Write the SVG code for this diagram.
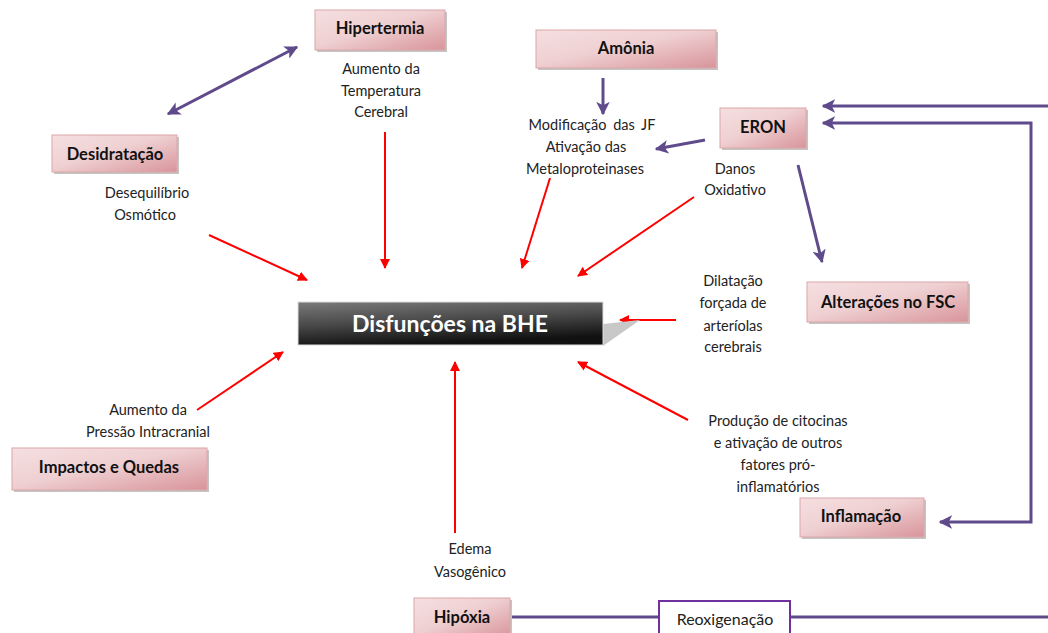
<svg xmlns="http://www.w3.org/2000/svg" width="1048" height="633" viewBox="0 0 1048 633">
<defs>
<linearGradient id="pink" x1="0" y1="0" x2="1" y2="1">
<stop offset="0" stop-color="#f5dfe0"/>
<stop offset="0.45" stop-color="#efd0d2"/>
<stop offset="1" stop-color="#d8949a"/>
</linearGradient>
<linearGradient id="dark" x1="0" y1="0" x2="0.3" y2="1">
<stop offset="0" stop-color="#7a7a7a"/>
<stop offset="0.5" stop-color="#4a4a4a"/>
<stop offset="1" stop-color="#111"/>
</linearGradient>
<marker id="ar" viewBox="0 0 10 10" refX="9" refY="5" markerWidth="5" markerHeight="5" orient="auto-start-reverse" markerUnits="strokeWidth">
<path d="M0,0 L10,5 L0,10 z" fill="#ff0000"/>
</marker>
<marker id="ap" viewBox="0 0 10 10" refX="9" refY="5" markerWidth="4.5" markerHeight="4.5" orient="auto-start-reverse" markerUnits="strokeWidth">
<path d="M0,0 L10,5 L0,10 L2.5,5 z" fill="#5f4b8b"/>
</marker>
</defs>
<style>
.box{fill:url(#pink);stroke:#dca6aa;stroke-width:1}
.sh{fill:#c4c4c4}
.bt{font-family:Lato,"Open Sans",sans-serif;font-weight:bold;font-size:16.5px;fill:#111;text-anchor:middle}
.lt{font-family:Lato,"Open Sans",sans-serif;font-size:14.5px;fill:#222;text-anchor:middle}
.red{stroke:#ff0000;stroke-width:2;fill:none;marker-end:url(#ar)}
.pur{stroke:#5f4b8b;stroke-width:3;fill:none}
</style>
<rect width="1048" height="633" fill="#fff"/>

<g id="connectors">
<line class="red" x1="209" y1="235" x2="307" y2="280"/>
<line class="red" x1="385" y1="132" x2="385" y2="268"/>
<line class="red" x1="550" y1="178" x2="522" y2="268"/>
<line class="red" x1="694" y1="197" x2="578" y2="276"/>
<line class="red" x1="676" y1="320" x2="620" y2="320"/>
<line class="red" x1="688" y1="420" x2="578" y2="362"/>
<line class="red" x1="455" y1="533" x2="455" y2="362"/>
<line class="red" x1="197" y1="410" x2="283" y2="352"/>
<line class="pur" x1="297" y1="47" x2="168" y2="114" marker-start="url(#ap)" marker-end="url(#ap)"/>
<line class="pur" x1="603" y1="78" x2="603" y2="114" marker-end="url(#ap)"/>
<line class="pur" x1="705" y1="140" x2="656" y2="149" marker-end="url(#ap)"/>
<line class="pur" x1="798" y1="165" x2="822" y2="262" marker-end="url(#ap)"/>
<line class="pur" x1="1048" y1="106" x2="823" y2="106" marker-end="url(#ap)"/>
<polyline class="pur" points="823,123 1031,123 1031,522 940,522" marker-start="url(#ap)" marker-end="url(#ap)"/>
<line class="pur" x1="512" y1="617" x2="659" y2="617"/>
<line class="pur" x1="790" y1="617" x2="1048" y2="617"/>
</g>

<g id="hipertermia">
<rect class="sh" x="317" y="12" width="130" height="40"/>
<rect class="box" x="315" y="10" width="130" height="40"/>
<text class="bt" x="380" y="34">Hipertermia</text>
</g>
<g id="label-hipertermia">
<text class="lt" x="381" y="74">Aumento da</text>
<text class="lt" x="381" y="96">Temperatura</text>
<text class="lt" x="381" y="117">Cerebral</text>
</g>

<g id="amonia">
<rect class="sh" x="538" y="32" width="180" height="38"/>
<rect class="box" x="536" y="30" width="180" height="38"/>
<text class="bt" x="626" y="54">Amônia</text>
</g>
<g id="label-amonia">
<text class="lt" x="592" y="130" word-spacing="3">Modificação das JF</text>
<text class="lt" x="586" y="152">Ativação das</text>
<text class="lt" x="585" y="174">Metaloproteinases</text>
</g>

<g id="eron">
<rect class="sh" x="722" y="110" width="86" height="40"/>
<rect class="box" x="720" y="108" width="86" height="40"/>
<text class="bt" x="763" y="133">ERON</text>
</g>
<g id="label-eron">
<text class="lt" x="735" y="174">Danos</text>
<text class="lt" x="735" y="195">Oxidativo</text>
</g>

<g id="desidratacao">
<rect class="sh" x="54" y="137" width="125" height="37"/>
<rect class="box" x="52" y="135" width="125" height="37"/>
<text class="bt" x="115" y="160">Desidratação</text>
</g>
<g id="label-desidratacao">
<text class="lt" x="147" y="198">Desequilíbrio</text>
<text class="lt" x="145" y="220">Osmótico</text>
</g>

<g id="fsc">
<rect class="sh" x="809" y="284" width="161" height="40"/>
<rect class="box" x="807" y="282" width="161" height="40"/>
<text class="bt" x="888" y="308">Alterações no FSC</text>
</g>
<g id="label-fsc">
<text class="lt" x="733" y="286">Dilatação</text>
<text class="lt" x="733" y="308">forçada de</text>
<text class="lt" x="733" y="331">arteríolas</text>
<text class="lt" x="733" y="352">cerebrais</text>
</g>

<g id="disfuncoes">
<polygon points="603,324 640,320 603,346" fill="#c8c8c8"/>
<rect x="298" y="302" width="305" height="43" fill="url(#dark)" stroke="#ddd" stroke-width="1"/>
<text x="450" y="332" font-family="Lato,'Open Sans',sans-serif" font-weight="bold" font-size="23" fill="#fff" text-anchor="middle">Disfunções na BHE</text>
</g>

<g id="impactos">
<rect class="sh" x="14" y="450" width="195" height="42"/>
<rect class="box" x="12" y="448" width="195" height="42"/>
<text class="bt" x="109" y="473">Impactos e Quedas</text>
</g>
<g id="label-impactos">
<text class="lt" x="148" y="415">Aumento da</text>
<text class="lt" x="148" y="437">Pressão Intracranial</text>
</g>

<g id="inflamacao">
<rect class="sh" x="802" y="500" width="124" height="39"/>
<rect class="box" x="800" y="498" width="124" height="39"/>
<text class="bt" x="861" y="522">Inflamação</text>
</g>
<g id="label-inflamacao">
<text class="lt" x="778" y="426">Produção de citocinas</text>
<text class="lt" x="778" y="448">e ativação de outros</text>
<text class="lt" x="778" y="470">fatores pró-</text>
<text class="lt" x="778" y="492">inflamatórios</text>
</g>

<g id="label-edema">
<text class="lt" x="470" y="554">Edema</text>
<text class="lt" x="470" y="577">Vasogênico</text>
</g>

<g id="hipoxia">
<rect class="sh" x="416" y="600" width="96" height="40"/>
<rect class="box" x="414" y="598" width="96" height="40"/>
<text class="bt" x="462" y="623">Hipóxia</text>
</g>

<g id="reoxigenacao">
<rect x="659" y="601" width="131" height="40" fill="#fff" stroke="#7030a0" stroke-width="2"/>
<text x="725" y="625" font-family="Lato,'Open Sans',sans-serif" font-size="16" fill="#222" text-anchor="middle">Reoxigenação</text>
</g>
</svg>
